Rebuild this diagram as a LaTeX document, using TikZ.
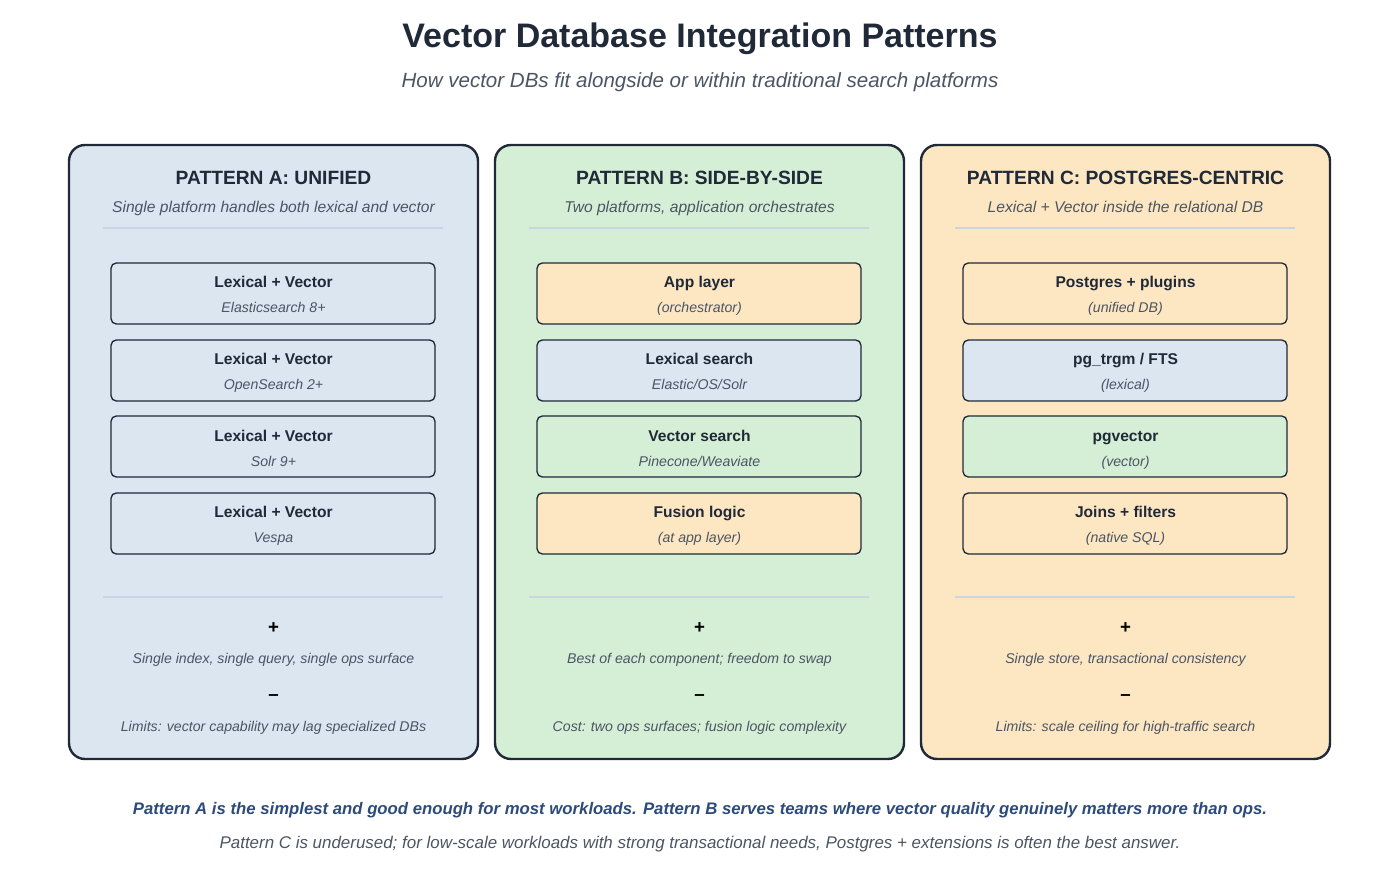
\documentclass[tikz,border=0pt]{standalone}
\usepackage{fontspec}
\setmainfont{Liberation Sans}
\definecolor{ink}{HTML}{1F2937}
\definecolor{sub}{HTML}{4B5563}
\definecolor{sep}{HTML}{CBD5E1}
\definecolor{fa}{HTML}{DCE6F0}
\definecolor{fb}{HTML}{D5EFD6}
\definecolor{fc}{HTML}{FDE7C3}
\definecolor{navy}{HTML}{2C4A7A}
\begin{document}
\begin{tikzpicture}[x=0.75pt,y=-0.75pt,
  every node/.style={text height=1.5ex,text depth=.3ex,inner sep=0pt,yshift=-1.5pt},
  panel/.style={draw=ink,line width=1.8pt,rounded corners=12pt},
  box/.style={draw=ink,line width=1pt,rounded corners=4pt},
  ttl/.style={font=\bfseries\fontsize{14.4}{16}\selectfont,text=ink},
  psub/.style={font=\itshape\fontsize{11.7}{13}\selectfont,text=sub},
  bt/.style={font=\bfseries\fontsize{11.7}{13}\selectfont,text=ink},
  bs/.style={font=\itshape\fontsize{10.6}{12}\selectfont,text=sub},
  sl/.style={draw=sep,line width=1.5pt}]
\useasboundingbox (0,0) rectangle (1400,887);
\node[font=\bfseries\fontsize{25.5}{30}\selectfont,text=ink] (title) at (700,41) {Vector Database Integration Patterns};
\node[font=\itshape\fontsize{15.4}{18}\selectfont,text=sub] (subt) at (700,81) {How vector DBs fit alongside or within traditional search platforms};
\foreach \id/\x/\f/\T/\S/\ta/\sa/\tb/\sb/\tc/\sc/\td/\sd/\fa/\fb/\fc/\fd/\P/\M in {
 A/69/fa/{PATTERN A: UNIFIED}/{Single platform handles both lexical and vector}/{Lexical + Vector}/{Elasticsearch 8+}/{Lexical + Vector}/{OpenSearch 2+}/{Lexical + Vector}/{Solr 9+}/{Lexical + Vector}/{Vespa}/fa/fa/fa/fa/{Single index, single query, single ops surface}/{Limits: vector capability may lag specialized DBs},
 B/495/fb/{PATTERN B: SIDE-BY-SIDE}/{Two platforms, application orchestrates}/{App layer}/{(orchestrator)}/{Lexical search}/{Elastic/OS/Solr}/{Vector search}/{Pinecone/Weaviate}/{Fusion logic}/{(at app layer)}/fc/fa/fb/fc/{Best of each component; freedom to swap}/{Cost: two ops surfaces; fusion logic complexity},
 C/921/fc/{PATTERN C: POSTGRES-CENTRIC}/{Lexical + Vector inside the relational DB}/{Postgres + plugins}/{(unified DB)}/{pg\_trgm / FTS}/{(lexical)}/{pgvector}/{(vector)}/{Joins + filters}/{(native SQL)}/fc/fa/fb/fc/{Single store, transactional consistency}/{Limits: scale ceiling for high-traffic search}}{
  \pgfmathsetmacro{\cx}{\x+204.5}
  \draw[panel,fill=\f] (\x,145) rectangle (\x+409,759);
  \node[ttl] (t\id) at (\cx,178) {\T};
  \node[psub] (s\id) at (\cx,206) {\S};
  \draw[sl] (\x+34,228) -- (\x+374,228);
  \draw[sl] (\x+34,597) -- (\x+374,597);
  \draw[box,fill=\fa] (\x+42,263) rectangle (\x+366,324);
  \node[bt] (a\id) at (\cx,281) {\ta}; \node[bs] at (\cx,306) {\sa};
  \draw[box,fill=\fb] (\x+42,340) rectangle (\x+366,401);
  \node[bt] (b\id) at (\cx,358) {\tb}; \node[bs] at (\cx,383) {\sb};
  \draw[box,fill=\fc] (\x+42,416) rectangle (\x+366,477);
  \node[bt] (c\id) at (\cx,435) {\tc}; \node[bs] at (\cx,460) {\sc};
  \draw[box,fill=\fd] (\x+42,493) rectangle (\x+366,554);
  \node[bt] (d\id) at (\cx,511) {\td}; \node[bs] at (\cx,536) {\sd};
  \node[font=\bfseries\fontsize{14}{15}\selectfont,text=black] at (\cx,627) {+};
  \node[bs,text=sub] at (\cx,657) {\P};
  \node[font=\bfseries\fontsize{14}{15}\selectfont,text=black] at (\cx,694) {–};
  \node[bs,text=sub] at (\cx,725) {\M};
}
\node[font=\bfseries\itshape\fontsize{12.55}{15}\selectfont,text=navy] (f1) at (700,808) {Pattern A is the simplest and good enough for most workloads. Pattern B serves teams where vector quality genuinely matters more than ops.};
\node[font=\itshape\fontsize{12.7}{15}\selectfont,text=sub] (f2) at (700,842) {Pattern C is underused; for low-scale workloads with strong transactional needs, Postgres + extensions is often the best answer.};
\end{tikzpicture}
\end{document}
